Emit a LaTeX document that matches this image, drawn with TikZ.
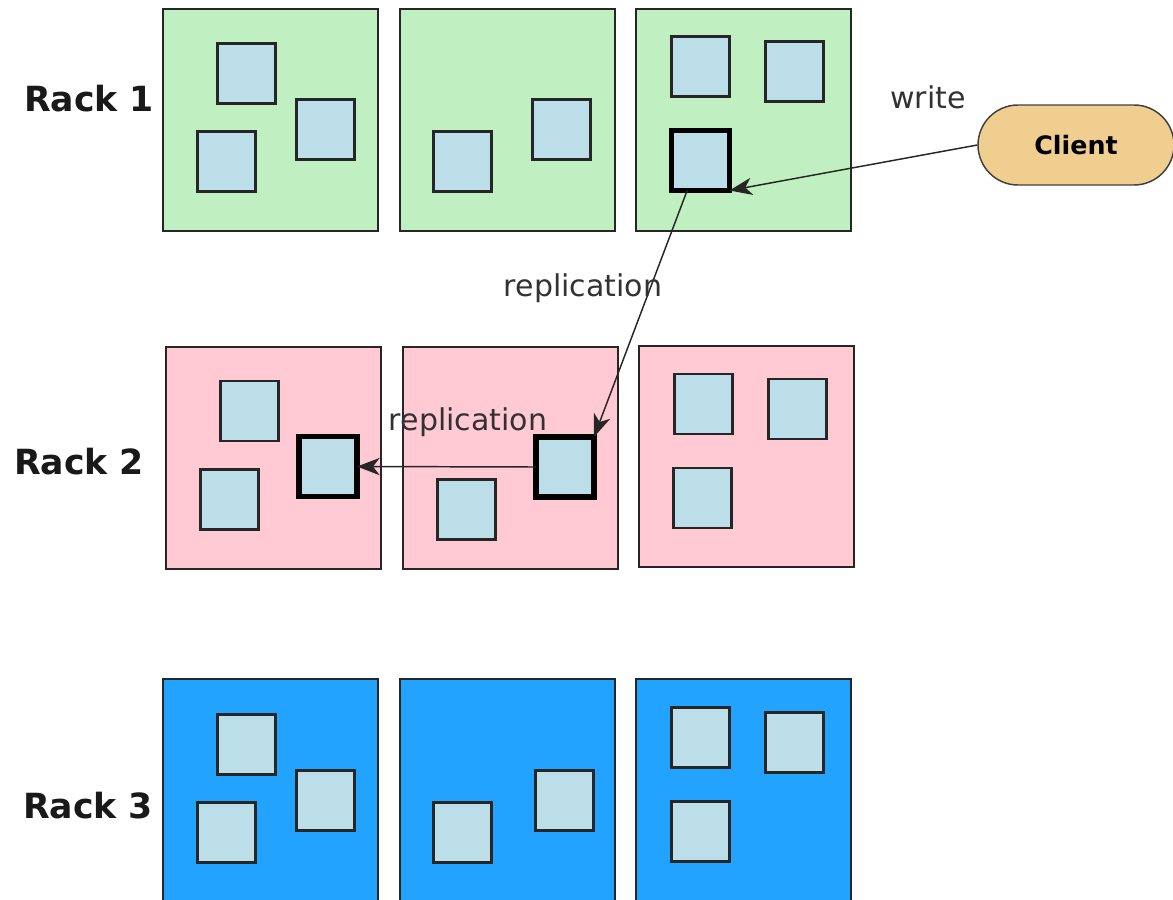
\documentclass[tikz,border=0pt]{standalone}
\usepackage{fontspec}
\setmainfont{DejaVu Sans}
\usetikzlibrary{arrows.meta}
\definecolor{rackgreen}{RGB}{192,240,194}
\definecolor{rackpink}{RGB}{255,202,212}
\definecolor{rackblue}{RGB}{33,163,255}
\definecolor{blockfill}{RGB}{187,222,232}
\definecolor{clientfill}{RGB}{240,206,144}
\definecolor{labelgray}{RGB}{50,50,50}
\tikzset{
  server/.style={draw=black!85, line width=1.5pt, inner sep=0pt, outer sep=0pt,
    minimum width=161.25pt, minimum height=166pt},
  block/.style={draw=black!85, fill=blockfill, line width=1.9pt, inner sep=0pt, outer sep=0pt,
    minimum width=43.5pt, minimum height=45pt},
  replica/.style={block, draw=black, line width=3.8pt},
  racklabel/.style={font=\bfseries\fontsize{26}{30}\selectfont, text=black!90},
  flowlabel/.style={font=\fontsize{22.5}{26}\selectfont, text=labelgray},
  flow/.style={draw=black!85, line width=1.1pt, -{Stealth[length=17pt,width=13pt,inset=5pt]}},
  client/.style={draw=black!75, fill=clientfill, line width=1.1pt, rounded corners=30pt,
    minimum width=147pt, minimum height=60pt, inner sep=0pt,
    font=\bfseries\fontsize{19}{22}\selectfont}
}
\begin{document}
\begin{tikzpicture}[x=0.75pt,y=-0.75pt]
\useasboundingbox (0,0) rectangle (1173,899);

% rack labels
\node[racklabel] (lab1) at (89,99) {Rack 1};
\node[racklabel] (lab2) at (79,462) {Rack 2};
\node[racklabel] (lab3) at (88,806) {Rack 3};

% rack 1 servers
\node[server, fill=rackgreen] (s11) at (270.5,120) {};
\node[server, fill=rackgreen] (s12) at (507.5,120) {};
\node[server, fill=rackgreen] (s13) at (743.5,120) {};
% rack 2 servers
\node[server, fill=rackpink] (s21) at (273,458) {};
\node[server, fill=rackpink] (s22) at (510,458) {};
\node[server, fill=rackpink] (s23) at (746.5,456.5) {};
% rack 3 servers
\node[server, fill=rackblue] (s31) at (270,790) {};
\node[server, fill=rackblue] (s32) at (507,790) {};
\node[server, fill=rackblue] (s33) at (743.5,790) {};

% blocks in rack 1
\node[block] (b111) at (246.5,73.5) {};
\node[block] (b112) at (226.5,161.5) {};
\node[block] (b113) at (325.5,129.5) {};
\node[block] (b121) at (462.5,161.5) {};
\node[block] (b122) at (561.5,129.5) {};
\node[block] (b131) at (700.5,66.5) {};
\node[block] (b132) at (794.5,71.5) {};
\node[replica] (r1) at (700.5,160.5) {};
% blocks in rack 2
\node[block] (b211) at (249.5,411) {};
\node[block] (b212) at (229.5,499.5) {};
\node[replica] (r3) at (328,466.5) {};
\node[block] (b221) at (466.5,509.5) {};
\node[replica] (r2) at (565,467) {};
\node[block] (b231) at (703.5,404) {};
\node[block] (b232) at (797.5,409) {};
\node[block] (b233) at (702.5,498) {};
% blocks in rack 3
\node[block] (b311) at (246.5,744.5) {};
\node[block] (b312) at (226.5,832.5) {};
\node[block] (b313) at (325.5,800.5) {};
\node[block] (b321) at (462.5,832.5) {};
\node[block] (b322) at (564.5,800.5) {};
\node[block] (b331) at (700.5,737.5) {};
\node[block] (b332) at (794.5,742.5) {};
\node[block] (b333) at (700.5,831.5) {};

% client
\node[client] (client) at (1076,145) {Client};

% data flow
\draw[flow] (client.west) -- (r1.south east);
\draw[flow] (r1.-114) -- (r2.north east);
\draw[flow] (r2.west) -- (r3.east);

% flow labels
\node[flowlabel] (lw) at (928,97) {write};
\node[flowlabel] (lr1) at (583,288) {replication};
\node[flowlabel] (lr2) at (468,422) {replication};
\end{tikzpicture}
\end{document}
